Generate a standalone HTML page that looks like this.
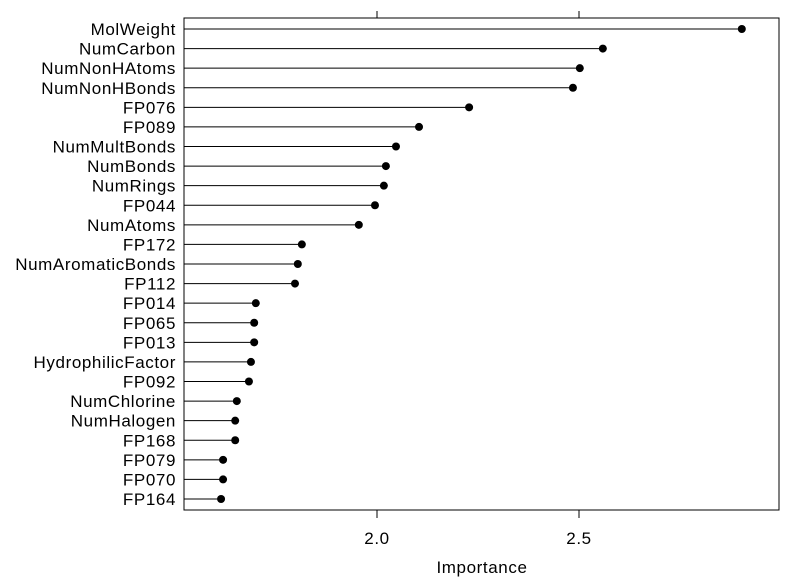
<!DOCTYPE html>
<html><head><meta charset="utf-8"><style>
body{margin:0;background:#fff}
svg text{font-family:"Liberation Sans",Arial,sans-serif;fill:#000;letter-spacing:0.6px}
</style></head><body>
<svg id="chart" width="794" height="577" xmlns="http://www.w3.org/2000/svg">
<rect x="184" y="18" width="595" height="492" fill="none" stroke="#000" stroke-width="1"/>
<g id="g"></g>
<text x="482" y="573" font-size="17" text-anchor="middle">Importance</text>
</svg>
<script>
const categories=["MolWeight","NumCarbon","NumNonHAtoms","NumNonHBonds","FP076","FP089","NumMultBonds","NumBonds","NumRings","FP044","NumAtoms","FP172","NumAromaticBonds","FP112","FP014","FP065","FP013","HydrophilicFactor","FP092","NumChlorine","NumHalogen","FP168","FP079","FP070","FP164"];
const values=[2.903,2.559,2.502,2.485,2.228,2.104,2.047,2.022,2.017,1.995,1.955,1.814,1.804,1.797,1.700,1.696,1.696,1.688,1.683,1.653,1.649,1.649,1.619,1.619,1.614];
const ticks=[2.0,2.5];
const tickLabels=["2.0","2.5"];
const NS="http://www.w3.org/2000/svg";
const g=document.getElementById('g');
const X=v=>377+(v-2)*404;
const Y=i=>29+i*(499-29)/(categories.length-1);
function mk(t,a){const e=document.createElementNS(NS,t);for(const k in a)e.setAttribute(k,a[k]);g.appendChild(e);return e;}
categories.forEach((c,i)=>{
 const l=mk('line',{x1:184,x2:X(values[i]),y1:Y(i),y2:Y(i),stroke:'#000','stroke-width':1});
 
 
 const p=mk('circle',{cx:X(values[i]),cy:Y(i),r:4,fill:'#000'});
 
 
 const t=mk('text',{x:176,y:Y(i)+6,'font-size':17,'text-anchor':'end'});
 t.textContent=c;
 
 
});
ticks.forEach((v,i)=>{
 const b=mk('line',{x1:X(v),x2:X(v),y1:510,y2:518,stroke:'#000'});
 
 
 const tp=mk('line',{x1:X(v),x2:X(v),y1:11,y2:18,stroke:'#000'});
 
 
 const t=mk('text',{x:X(v),y:544,'font-size':17,'text-anchor':'middle'});
 t.textContent=tickLabels[i];
 
 
});
</script>
</body></html>
